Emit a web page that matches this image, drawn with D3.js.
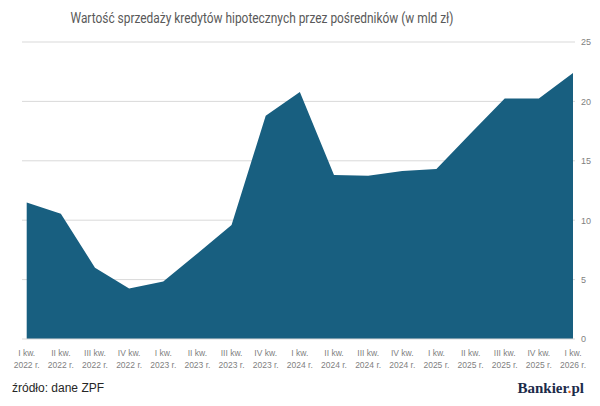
<!DOCTYPE html>
<html>
<head>
<meta charset="utf-8">
<script src="https://cdn.jsdelivr.net/npm/d3@7.9.0/dist/d3.min.js"></script>
<style>
  body { margin: 0; background: #fff; }
  svg { display: block; }
</style>
</head>
<body>
<svg id="chart" width="600" height="406"></svg>
<script>
// Quarters shown on the x axis (two-line labels)
const quarters = ['I kw.', 'II kw.', 'III kw.', 'IV kw.', 'I kw.', 'II kw.', 'III kw.', 'IV kw.',
  'I kw.', 'II kw.', 'III kw.', 'IV kw.', 'I kw.', 'II kw.', 'III kw.', 'IV kw.', 'I kw.'];
const years = ['2022 r.', '2022 r.', '2022 r.', '2022 r.', '2023 r.', '2023 r.', '2023 r.', '2023 r.',
  '2024 r.', '2024 r.', '2024 r.', '2024 r.', '2025 r.', '2025 r.', '2025 r.', '2025 r.', '2026 r.'];

// Sales value, bn PLN
const values = [11.5, 10.55, 6.0, 4.25, 4.85, 7.2, 9.6, 18.8, 20.8, 13.8, 13.75, 14.15, 14.3, 17.3, 20.25, 20.25, 22.4];

const yTicks = [0, 5, 10, 15, 20, 25];

const svg = d3.select('#chart');
const plotLeft = 26.7, plotRight = 573, plotTop = 42, plotBottom = 339;

const x = d3.scalePoint().domain(d3.range(values.length)).range([plotLeft, plotRight]);
const y = d3.scaleLinear().domain([0, 25]).range([plotBottom, plotTop]);

// Gridlines
svg.append('g')
  .selectAll('line')
  .data(yTicks.filter((d) => d > 0))
  .join('line')
  .attr('x1', 22)
  .attr('x2', 575)
  .attr('y1', (d) => y(d))
  .attr('y2', (d) => y(d))
  .attr('stroke', '#d9d9d9')
  .attr('stroke-width', 1);

// Area
const area = d3.area()
  .x((d, i) => x(i))
  .y0(y(0))
  .y1((d) => y(d));

svg.append('path')
  .datum(values)
  .attr('d', area)
  .attr('fill', '#185f80');

// Baseline
svg.append('line')
  .attr('x1', 22).attr('x2', 575)
  .attr('y1', y(0)).attr('y2', y(0))
  .attr('stroke', '#d9d9d9');

// Y axis labels on the right
const yAxis = d3.axisRight(y).tickValues(yTicks).tickSize(0).tickPadding(0);
const yg = svg.append('g')
  .attr('transform', `translate(581,0)`)
  .call(yAxis);
yg.select('.domain').remove();
yg.selectAll('text')
  .attr('fill', '#7f7f7f')
  .style('font-family', 'Liberation Sans, Arial, sans-serif')
  .style('font-size', '9px');

// X axis labels (two lines)
const xg = svg.append('g');
const lbl = xg.selectAll('text')
  .data(values.map((d, i) => i))
  .join('text')
  .attr('x', (i) => x(i))
  .attr('y', 356)
  .attr('text-anchor', 'middle')
  .attr('fill', '#7f7f7f')
  .style('font-family', 'Liberation Sans, Arial, sans-serif')
  .style('font-size', '8.5px');
lbl.append('tspan').attr('x', (i) => x(i)).text((i) => quarters[i]);
lbl.append('tspan').attr('x', (i) => x(i)).attr('dy', 12).text((i) => years[i]);

// Title
svg.append('text')
  .attr('x', 262)
  .attr('y', 23)
  .attr('text-anchor', 'middle')
  .attr('fill', '#595959')
  .style('font-family', 'Liberation Sans Narrow, Roboto, sans-serif')
  .style('font-size', '15.5px')
  .attr('textLength', 383)
  .attr('lengthAdjust', 'spacingAndGlyphs')
  .text('Wartość sprzedaży kredytów hipotecznych przez pośredników (w mld zł)');

// Source
svg.append('text')
  .attr('x', 12)
  .attr('y', 392)
  .attr('fill', '#262626')
  .style('font-family', 'Liberation Sans, Arial, sans-serif')
  .style('font-size', '12px')
  .text('źródło: dane ZPF');

// Logo
const logo = svg.append('text')
  .attr('x', 584)
  .attr('y', 393)
  .attr('text-anchor', 'end')
  .attr('fill', '#1c2b4a')
  .style('font-family', 'Liberation Serif, DejaVu Serif, serif')
  .style('font-weight', 'bold')
  .style('font-size', '15px');
logo.append('tspan').text('Bankier');
logo.append('tspan').attr('fill', '#e05a1c').text('.');
logo.append('tspan').text('pl');
</script>
</body>
</html>
